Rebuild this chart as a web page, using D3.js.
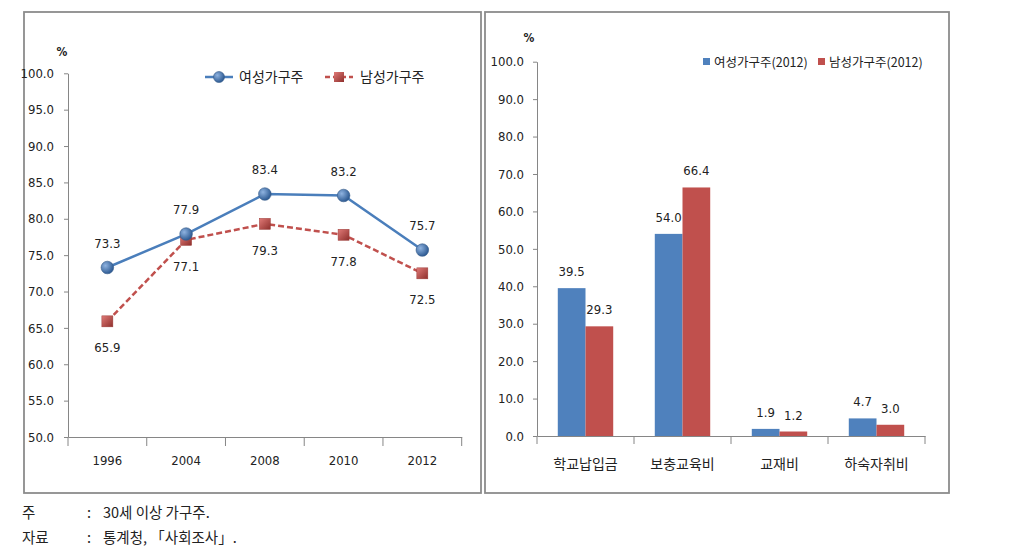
<!DOCTYPE html>
<html><head><meta charset="utf-8">
<script src="https://cdn.jsdelivr.net/npm/d3@7"></script>
<style>
body{margin:0;background:#fff;}
svg{display:block;}
.tk{font-family:"Liberation Sans Narrow","DejaVu Sans Condensed",sans-serif;font-size:13px;fill:#222;}
.kr{font-family:"Noto Sans CJK KR",sans-serif;fill:#222;}
</style></head><body>
<svg id="c" width="1022" height="550"></svg>
<script>
// ---- data ----
const years = ["1996","2004","2008","2010","2012"];
const femaleTrend = [73.3, 77.9, 83.4, 83.2, 75.7];
const maleTrend = [65.9, 77.1, 79.3, 77.8, 72.5];
const lineSeries = ["여성가구주", "남성가구주"];
const leftTicks = [50,55,60,65,70,75,80,85,90,95,100];

const categories = ["학교납입금","보충교육비","교재비","하숙자취비"];
const female2012 = [39.5, 54.0, 1.9, 4.7];
const male2012 = [29.3, 66.4, 1.2, 3.0];
const barSeries = ["여성가구주(2012)", "남성가구주(2012)"];
const rightTicks = [0,10,20,30,40,50,60,70,80,90,100];

const BLUE = "#4F81BD", RED = "#C0504D", LINEBLUE="#4A7EBB", AX="#868686";

const svg = d3.select("#c");
const defs = svg.append("defs");
const gb = defs.append("radialGradient").attr("id","gBlue").attr("cx","35%").attr("cy","35%").attr("r","65%");
gb.append("stop").attr("offset","0%").attr("stop-color","#8fb3e0");
gb.append("stop").attr("offset","100%").attr("stop-color","#2f5c94");
const gr = defs.append("linearGradient").attr("id","gRed").attr("x1","0").attr("y1","0").attr("x2","1").attr("y2","1");
gr.append("stop").attr("offset","0%").attr("stop-color","#e07a77");
gr.append("stop").attr("offset","100%").attr("stop-color","#8e2f2c");

// panel frames
svg.append("rect").attr("x",24).attr("y",12).attr("width",457).attr("height",481)
  .attr("fill","none").attr("stroke","#8c8c8c").attr("stroke-width",1.8);
svg.append("rect").attr("x",485).attr("y",12).attr("width",464).attr("height",481)
  .attr("fill","none").attr("stroke","#8c8c8c").attr("stroke-width",1.8);

// ---------- LEFT: line chart ----------
const xL = d3.scaleBand().domain(years).range([68, 461.7]).padding(0);
const yL = d3.scaleLinear().domain([50,100]).range([437, 73.3]);

const gyL = svg.append("g").attr("transform","translate(68,0)")
  .call(d3.axisLeft(yL).tickValues(leftTicks).tickFormat(d3.format(".1f")).tickSize(4).tickSizeOuter(0).tickPadding(10));
gyL.selectAll("text").attr("class","tk");
gyL.selectAll("line,path").attr("stroke",AX);

const gxL = svg.append("g").attr("transform","translate(0,437)")
  .call(d3.axisBottom(xL).tickSize(0).tickSizeOuter(0).tickPadding(19));
gxL.selectAll("text").attr("class","tk");
gxL.selectAll("path").attr("stroke",AX);
const bLeft = years.map(y=>xL(y)).concat([xL(years[years.length-1])+xL.bandwidth()]);
svg.append("g").selectAll("line").data(bLeft).join("line")
  .attr("x1",d=>d).attr("x2",d=>d).attr("y1",437).attr("y2",446).attr("stroke",AX);

svg.append("text").attr("class","tk").attr("x",62).attr("y",56).attr("text-anchor","middle")
  .style("font-weight","bold").style("font-size","12px").text("%");

const cx = d=>xL(d)+xL.bandwidth()/2;
const lineGen = (vals)=>d3.line().x((d,i)=>cx(years[i])).y(d=>yL(d))(vals);

svg.append("path").attr("d",lineGen(maleTrend)).attr("fill","none").attr("stroke",RED)
  .attr("stroke-width",2.5).attr("stroke-dasharray","6,3");
svg.append("path").attr("d",lineGen(femaleTrend)).attr("fill","none").attr("stroke",LINEBLUE)
  .attr("stroke-width",2.5);

svg.append("g").selectAll("rect").data(maleTrend).join("rect")
  .attr("x",(d,i)=>cx(years[i])-5.5).attr("y",d=>yL(d)-5.5).attr("width",11).attr("height",11)
  .attr("fill","url(#gRed)").attr("stroke","#9c3a37").attr("stroke-width",0.5);
svg.append("g").selectAll("circle").data(femaleTrend).join("circle")
  .attr("cx",(d,i)=>cx(years[i])).attr("cy",d=>yL(d)).attr("r",6.3)
  .attr("fill","url(#gBlue)").attr("stroke","#385d8a").attr("stroke-width",0.6);

svg.append("g").selectAll("text").data(femaleTrend).join("text").attr("class","tk")
  .attr("x",(d,i)=>cx(years[i])).attr("y",d=>yL(d)-20).attr("text-anchor","middle")
  .text(d=>d.toFixed(1));
svg.append("g").selectAll("text").data(maleTrend).join("text").attr("class","tk")
  .attr("x",(d,i)=>cx(years[i])).attr("y",d=>yL(d)+31).attr("text-anchor","middle")
  .text(d=>d.toFixed(1));

// left legend
const lg = svg.append("g");
lg.append("line").attr("x1",205).attr("x2",233).attr("y1",77).attr("y2",77).attr("stroke",LINEBLUE).attr("stroke-width",2.5);
lg.append("circle").attr("cx",219).attr("cy",77).attr("r",5.5).attr("fill","url(#gBlue)").attr("stroke","#385d8a").attr("stroke-width",0.6);
lg.append("text").attr("class","kr").attr("x",239).attr("y",82).style("font-size","14px").text(lineSeries[0]);
lg.append("line").attr("x1",325).attr("x2",353).attr("y1",77).attr("y2",77).attr("stroke",RED).attr("stroke-width",2.5).attr("stroke-dasharray","5,3");
lg.append("rect").attr("x",334).attr("y",72).attr("width",10).attr("height",10).attr("fill","url(#gRed)");
lg.append("text").attr("class","kr").attr("x",360).attr("y",82).style("font-size","14px").text(lineSeries[1]);

// ---------- RIGHT: bar chart ----------
const xR = d3.scaleBand().domain(categories).range([537, 925]).padding(0);
const x1 = d3.scaleBand().domain(barSeries).range([0, xR.bandwidth()]).paddingInner(0).paddingOuter(0.75);
const yR = d3.scaleLinear().domain([0,100]).range([436, 61.7]);

const gyR = svg.append("g").attr("transform","translate(537,0)")
  .call(d3.axisLeft(yR).tickValues(rightTicks).tickFormat(d3.format(".1f")).tickSize(4).tickSizeOuter(0).tickPadding(9));
gyR.selectAll("text").attr("class","tk");
gyR.selectAll("line,path").attr("stroke",AX);

const gxR = svg.append("g").attr("transform","translate(0,436)")
  .call(d3.axisBottom(xR).tickSize(0).tickSizeOuter(0).tickPadding(23));
gxR.selectAll("text").attr("class","kr").style("font-size","14px");
gxR.selectAll("path").attr("stroke",AX);
const bRight = categories.map(c=>xR(c)).concat([xR(categories[categories.length-1])+xR.bandwidth()]);
svg.append("g").selectAll("line").data(bRight).join("line")
  .attr("x1",d=>d).attr("x2",d=>d).attr("y1",436).attr("y2",444).attr("stroke",AX);

svg.append("text").attr("class","tk").attr("x",529).attr("y",42).attr("text-anchor","middle")
  .style("font-weight","bold").style("font-size","12px").text("%");

const barData = [female2012, male2012];
const colors = [BLUE, RED];
barData.forEach((vals, si)=>{
  const g = svg.append("g");
  g.selectAll("rect").data(vals).join("rect")
    .attr("x",(d,i)=>xR(categories[i])+x1(barSeries[si])).attr("y",d=>yR(d))
    .attr("width",x1.bandwidth()).attr("height",d=>yR(0)-yR(d)).attr("fill",colors[si]);
  g.selectAll("text").data(vals).join("text").attr("class","tk")
    .attr("x",(d,i)=>xR(categories[i])+x1(barSeries[si])+x1.bandwidth()/2)
    .attr("y",d=>yR(d)-12).attr("text-anchor","middle").text(d=>d.toFixed(1));
});

// right legend
const rg = svg.append("g");
[0,1].forEach(i=>{
  const lx = [703, 818][i];
  rg.append("rect").attr("x",lx).attr("y",58).attr("width",7).attr("height",7).attr("fill",colors[i]);
  rg.append("text").attr("class","kr").attr("x",lx+11).attr("y",66.5).style("font-size","12.5px").text(barSeries[i]);
});

// footnotes
const fn = svg.append("g").attr("class","kr").style("font-size","14.5px");
fn.append("text").attr("x",22).attr("y",518).text("주");
fn.append("text").attr("x",87).attr("y",518).text(":");
fn.append("text").attr("x",103).attr("y",518).text("30세 이상 가구주.");
fn.append("text").attr("x",22).attr("y",543).text("자료");
fn.append("text").attr("x",87).attr("y",543).text(":");
fn.append("text").attr("x",103).attr("y",543).text("통계청, 「사회조사」.");
</script>
</body></html>
